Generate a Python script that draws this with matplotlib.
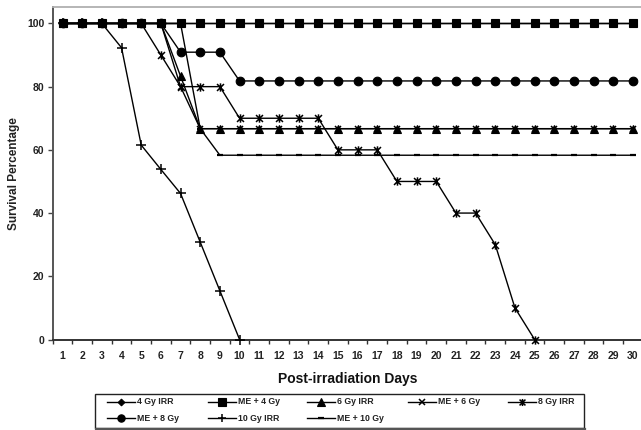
import matplotlib
matplotlib.use("Agg")
import matplotlib.pyplot as plt
from matplotlib.lines import Line2D
from matplotlib.patches import Rectangle
from matplotlib.path import Path
import numpy as np

plt.rcParams['font.family'] = ['Liberation Sans', 'DejaVu Sans']

# ---- data: survival (%) by post-irradiation day ----
days = list(range(1, 31))
day_labels = [str(d) for d in days]

gy4_irr = [100.0] * 30
me_gy4 = [100.0] * 30
gy6_irr = [100, 100, 100, 100, 100, 100, 83.3] + [66.7] * 23
me_gy6 = [100, 100, 100, 100, 100, 100, 80.0] + [66.7] * 23
gy8_irr = [100, 100, 100, 100, 100, 90, 80, 80, 80, 70, 70, 70, 70, 70,
           60, 60, 60, 50, 50, 50, 40, 40, 30, 10, 0]
me_gy8 = [100, 100, 100, 100, 100, 100, 90.9, 90.9, 90.9] + [81.8] * 21
gy10_irr = [100, 100, 100, 92.3, 61.5, 53.8, 46.2, 30.8, 15.4, 0]
me_gy10 = [100, 100, 100, 100, 100, 100, 100, 66.7] + [58.3] * 22

series_names = ["4 Gy IRR", "ME + 4 Gy", "6 Gy IRR", "ME + 6 Gy",
                "8 Gy IRR", "ME + 8 Gy", "10 Gy IRR", "ME + 10 Gy"]
series_values = [gy4_irr, me_gy4, gy6_irr, me_gy6, gy8_irr, me_gy8, gy10_irr, me_gy10]

# asterisk-like marker: an x crossed by a vertical stroke
star_path = Path([(-1, -1), (1, 1), (-1, 1), (1, -1), (0, -1.2), (0, 1.2)],
                 [Path.MOVETO, Path.LINETO, Path.MOVETO, Path.LINETO, Path.MOVETO, Path.LINETO])

styles = [
    dict(marker='D', ms=4.0, mew=0.8),
    dict(marker='s', ms=6.0, mew=0.8),
    dict(marker='^', ms=6.0, mew=0.8),
    dict(marker='x', ms=5.0, mew=1.1),
    dict(marker=star_path, ms=6.0, mew=1.1),
    dict(marker='o', ms=6.2, mew=0.8),
    dict(marker='+', ms=6.5, mew=1.1),
    dict(marker='_', ms=5.0, mew=1.6),
]
zorders = [3, 4, 6, 5, 7, 8, 9, 3.5]

W, H = 641, 430
fig = plt.figure(figsize=(W / 100, H / 100), dpi=100)

ax_left, ax_right = 52.7, 642.8
ax_top, ax_bottom = 7.3, 339.5
ax = fig.add_axes([ax_left / W, 1 - ax_bottom / H,
                   (ax_right - ax_left) / W, (ax_bottom - ax_top) / H])

for name, vals, st, z in zip(series_names, series_values, styles, zorders):
    ax.plot(days[:len(vals)], vals, color='black', lw=1.0,
            mfc='black', mec='black', zorder=z, clip_on=False, **st)

ax.set_xlim(0.5, 30.5)
ax.set_ylim(0, 105.1)

ax.set_yticks([0, 20, 40, 60, 80, 100])
ax.set_xticks(days)
ax.set_xticklabels(day_labels)
ax.set_xticks(np.arange(0.5, 31, 1), minor=True)
ax.tick_params(axis='x', which='major', length=0, pad=8.5, labelsize=7.5, labelcolor='#222222')
ax.tick_params(axis='x', which='minor', length=3, width=1.0, direction='out', color='#333333')
ax.tick_params(axis='y', length=3.5, width=1.0, direction='out', color='#444444',
               pad=2.5, labelsize=7.5, labelcolor='#222222')
for lab in ax.get_xticklabels() + ax.get_yticklabels():
    lab.set_fontweight('bold')

ax.spines['right'].set_visible(False)
ax.spines['left'].set_color('#555555')
ax.spines['left'].set_linewidth(1.4)
ax.spines['bottom'].set_color('#333333')
ax.spines['bottom'].set_linewidth(1.4)
ax.spines['top'].set_color('#b0b0b0')
ax.spines['top'].set_linewidth(1.3)

fig.text(14.5 / W, 1 - 174 / H, "Survival Percentage", rotation=90,
         ha='center', va='center', fontsize=8.5, fontweight='bold', color='#222222')
fig.text(348 / W, 1 - 378.5 / H, "Post-irradiation Days",
         ha='center', va='center', fontsize=10, fontweight='bold', color='#111111')


# ---- legend drawn in figure pixel coordinates ----
def fx(x):
    return x / W


def fy(y):
    return 1 - y / H


leg_l, leg_r, leg_t, leg_b = 94.7, 584.0, 394.3, 427.5
fig.add_artist(Rectangle((fx(leg_l), fy(leg_b)), fx(leg_r) - fx(leg_l), fy(leg_t) - fy(leg_b),
                         transform=fig.transFigure, fill=False, ec='#222222', lw=1.0))
fig.add_artist(Line2D([fx(leg_l + 1), fx(leg_r + 1)], [fy(leg_b + 1), fy(leg_b + 1)],
                      transform=fig.transFigure, color='#555555', lw=1.6))

col_x = [106.7, 208.3, 307.0, 408.3, 508.3]
row_y = [401.7, 418.3]
handle_len = 28
for i, (name, st) in enumerate(zip(series_names, styles)):
    r, c = divmod(i, 5)
    x0, y0 = col_x[c], row_y[r]
    s = dict(st)
    s['ms'] = s['ms'] * 0.85
    fig.add_artist(Line2D([fx(x0), fx(x0 + handle_len)], [fy(y0), fy(y0)],
                          transform=fig.transFigure, color='black', lw=1.0))
    fig.add_artist(Line2D([fx(x0 + handle_len / 2)], [fy(y0)], transform=fig.transFigure,
                          color='black', mfc='black', mec='black', ls='none', **s))
    fig.text(fx(x0 + handle_len + 2), fy(y0), name, ha='left', va='center',
             fontsize=6.3, fontweight='bold', color='#222222')

fig.savefig("out.png", dpi=100)
